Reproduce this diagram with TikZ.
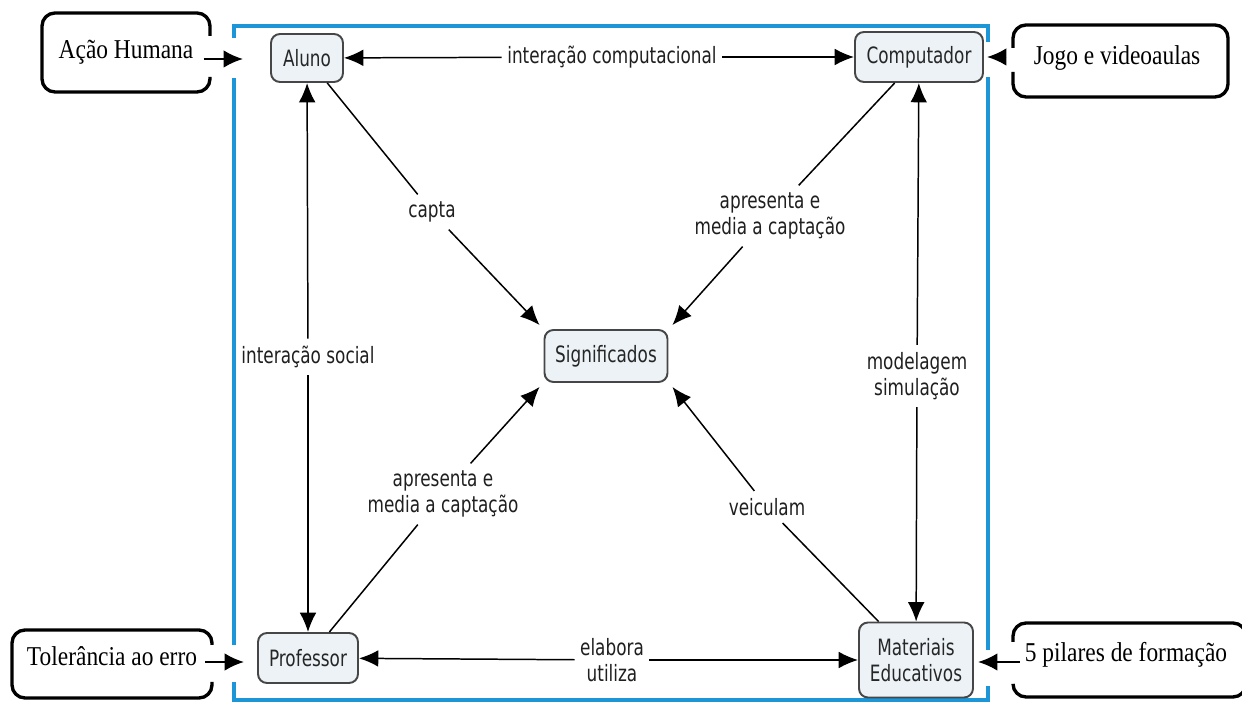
\documentclass[tikz,border=0pt]{standalone}
\usepackage{fontspec}
\usetikzlibrary{arrows.meta}
\newfontfamily\sansbox{DejaVu Sans}[FakeStretch=0.75]
\newfontfamily\serifbox{Liberation Serif}[FakeStretch=0.86]
\definecolor{framec}{RGB}{28,150,215}
\definecolor{cfill}{RGB}{236,242,246}
\definecolor{cdraw}{RGB}{70,70,70}
\begin{document}
\begin{tikzpicture}[x=0.02cm,y=-0.02cm,
  concept/.style={draw=cdraw, line width=1.1pt, fill=cfill, rounded corners=0.18cm,
    font=\sansbox\fontsize{12.8}{14.5}\selectfont, text=black!85, align=center, inner sep=0pt},
  lbl/.style={font=\sansbox\fontsize{12.8}{14.8}\selectfont, align=center,
    inner xsep=3pt, inner ysep=4pt, text=black!88},
  link/.style={line width=0.85pt, draw=black},
  tip/.style={-{Latex[length=11pt,width=9.5pt]}},
  bigtip/.style={line width=1.3pt, -{Latex[length=11pt,width=10pt]}},
  bracket/.style={line width=1.9pt, rounded corners=0.26cm},
  ext/.style={font=\serifbox\fontsize{15.5}{18}\selectfont, inner sep=0pt},
  frame/.style={draw=framec, line width=2.1pt}
]
\useasboundingbox (0,0) rectangle (1242,702);
\fill[white] (0,0) rectangle (1242,702);

% blue frame
\draw[frame] (234,38) -- (234,26) -- (988,26) -- (988,42);
\draw[frame] (234,78) -- (234,645);
\draw[frame] (988,77) -- (988,650);
\draw[frame] (234,682) -- (234,700) -- (988,700) -- (988,686);

% concepts
\node[concept, minimum width=1.44cm, minimum height=0.96cm] (aluno) at (307,58) {Aluno};
\node[concept, minimum width=2.56cm, minimum height=1.0cm] (comp) at (919,57) {Computador};
\node[concept, minimum width=2.0cm, minimum height=1.0cm] (prof) at (308,658) {Professor};
\node[concept, minimum width=2.28cm, minimum height=1.5cm] (mat) at (916,660) {Materiais\\Educativos};
\node[concept, minimum width=2.46cm, minimum height=1.04cm] (sig) at (606,356) {Significados};

% linking phrases
\node[lbl] (ic) at (612,57) {interação computacional};
\node[lbl] (capta) at (432,212) {capta};
\node[lbl] (ap1) at (770,216) {apresenta e\\media a captação};
\node[lbl] (is) at (308,357) {interação social};
\node[lbl] (ms) at (917,376) {modelagem\\simulação};
\node[lbl] (ap2) at (443,494) {apresenta e\\media a captação};
\node[lbl] (veic) at (767,507) {veiculam};
\node[lbl] (eu) at (612,660) {elabora\\utiliza};

% connectors
\draw[link,tip] (ic) -- (aluno);
\draw[link,tip] (ic) -- (comp);
\draw[link,tip] (is) -- (aluno);
\draw[link,tip] (is) -- (prof);
\draw[link,tip] (ms) -- (comp);
\draw[link,tip] (ms) -- (mat);
\draw[link,tip] (eu) -- (prof);
\draw[link,tip] (eu) -- (mat);
\draw[link] (aluno) -- (capta);
\draw[link,tip] (capta) -- ([shift={(-4,-4)}]sig.north west);
\draw[link] (comp) -- (ap1);
\draw[link,tip] (ap1) -- ([shift={(4,-4)}]sig.north east);
\draw[link] (prof) -- (ap2);
\draw[link,tip] (ap2) -- ([shift={(-4,4)}]sig.south west);
\draw[link] (mat) -- (veic);
\draw[link,tip] (veic) -- ([shift={(4,4)}]sig.south east);

% external boxes
\draw[bracket] (210,36) -- (210,13) -- (42,13) -- (42,92) -- (210,92) -- (210,77);
\node[ext] (ah) at (126,52) {Ação Humana};
\draw[bracket] (1013,48) -- (1013,25) -- (1228,25) -- (1228,97) -- (1013,97) -- (1013,72);
\node[ext] (jv) at (1117,58) {Jogo e videoaulas};
\draw[bracket] (212,645) -- (212,630) -- (12,630) -- (12,698) -- (212,698) -- (212,682);
\node[ext] (te) at (112,656) {Tolerância ao erro};
\draw[bracket] (1013,642) -- (1013,623) -- (1246,623) -- (1246,697) -- (1013,697) -- (1013,685);
\node[ext] (pf) at (1126,655) {5 pilares de formação};

% external arrows
\coordinate (ahin) at (243,59);
\coordinate (jvin) at (987,57);
\coordinate (tein) at (244,662);
\coordinate (pfin) at (978,662);
\draw[bigtip] ([xshift=0.2cm]ah.east |- ahin) -- (ahin);
\draw[bigtip] ([xshift=-0.54cm]jv.west |- jvin) -- (jvin);
\draw[bigtip] ([xshift=0.16cm]te.east |- tein) -- (tein);
\draw[bigtip] ([xshift=-0.1cm]pf.west |- pfin) -- (pfin);
\end{tikzpicture}
\end{document}
